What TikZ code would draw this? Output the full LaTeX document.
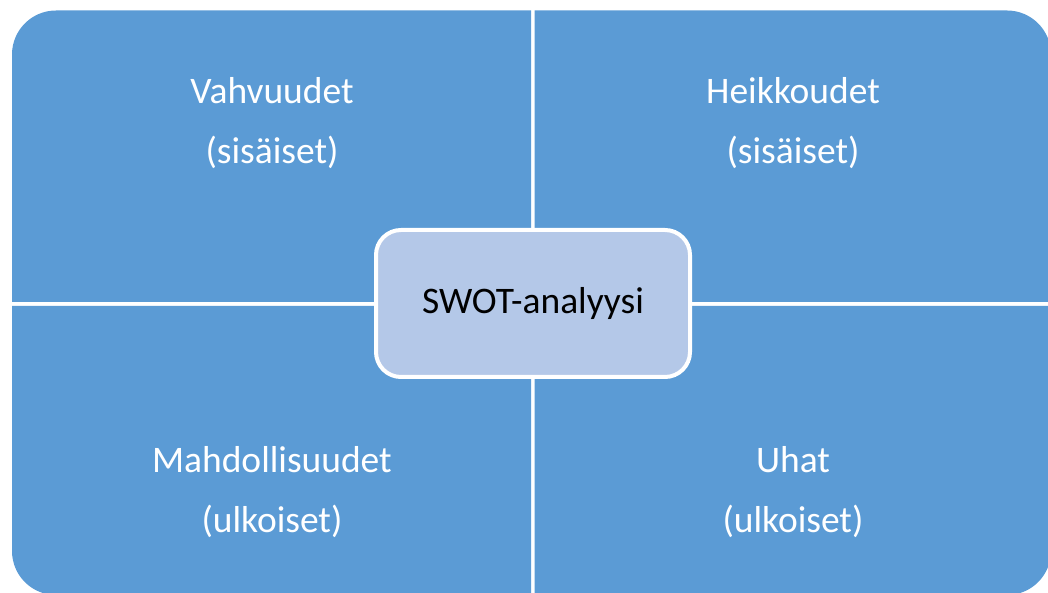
\documentclass[tikz,border=0pt]{standalone}
\usepackage{fontspec}
\setmainfont{Carlito}
\definecolor{quadblue}{HTML}{5B9BD5}
\definecolor{centerblue}{HTML}{B4C8E8}
\begin{document}
\begin{tikzpicture}[x=1pt,y=1pt,
  quad/.style={fill=quadblue},
  qlabel/.style={text=white,align=center,font=\fontsize{37.5}{60}\selectfont,inner sep=0pt},
  centerbox/.style={draw=white,line width=4pt,fill=centerblue,rounded corners=25pt,minimum width=314pt,minimum height=147pt,inner sep=0pt,font=\fontsize{37.5}{43}\selectfont,text=black}]
\useasboundingbox (0,0) rectangle (1048,593);
\clip (0,0) rectangle (1048,593);
\def\r{44}
% top-left
\fill[quad] (12,291) -- (12,582.5-\r) arc[start angle=180,end angle=90,radius=\r] -- (531,582.5) -- (531,291) -- cycle;
% top-right
\fill[quad] (534.5,291) -- (534.5,582.5) -- (1051-\r,582.5) arc[start angle=90,end angle=0,radius=\r] -- (1051,291) -- cycle;
% bottom-left
\fill[quad] (12,287) -- (12,-2+\r) arc[start angle=180,end angle=270,radius=\r] -- (531,-2) -- (531,287) -- cycle;
% bottom-right
\fill[quad] (534.5,287) -- (534.5,-2) -- (1051-\r,-2) arc[start angle=270,end angle=360,radius=\r] -- (1051,287) -- cycle;
\node[qlabel] (s) at (272,470) {Vahvuudet\\(sisäiset)};
\node[qlabel] (w) at (793,470) {Heikkoudet\\(sisäiset)};
\node[qlabel] (o) at (272,101) {Mahdollisuudet\\(ulkoiset)};
\node[qlabel] (t) at (793,101) {Uhat\\(ulkoiset)};
\node[centerbox] (c) at (533,289.5) {SWOT-analyysi};
\end{tikzpicture}
\end{document}
